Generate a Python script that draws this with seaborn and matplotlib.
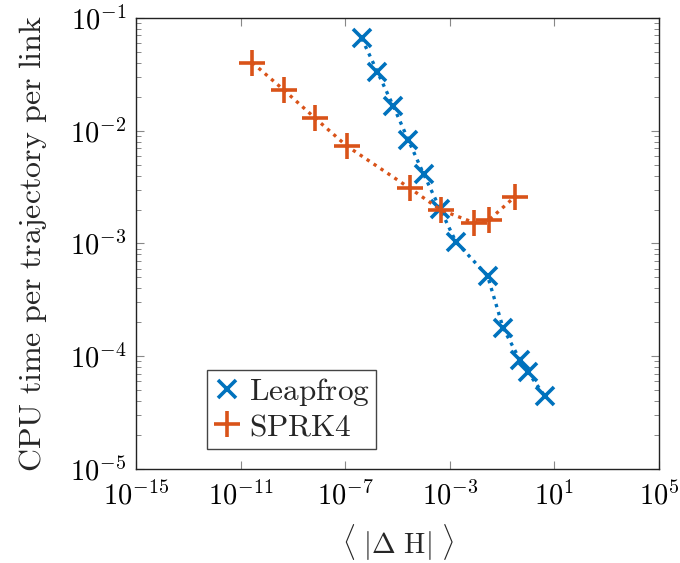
import numpy as np
import pandas as pd
import matplotlib
matplotlib.use("Agg")
import matplotlib.pyplot as plt
import seaborn as sns
from matplotlib.ticker import FixedLocator, LogLocator, FuncFormatter, NullFormatter

# Data
leap_dh = [4.3e-7, 1.7e-6, 6.9e-6, 2.6e-5, 1.0e-4, 4.3e-4, 1.7e-3, 2.8e-2, 1.1e-1, 4.8e-1, 9.5e-1, 4.4]
leap_cpu = [0.066, 0.0334, 0.0166, 0.00828, 0.00413, 0.00202, 0.00104, 5.15e-4, 1.78e-4, 9.3e-5, 7.3e-5, 4.4e-5]
sprk_dh = [2.8e-11, 4.5e-10, 7.2e-9, 1.15e-7, 3.0e-5, 4.6e-4, 8.5e-3, 3.2e-2, 3.1e-1]
sprk_cpu = [0.0402, 0.0230, 0.0129, 0.00733, 0.00309, 0.00198, 0.00153, 0.00162, 0.0026]
series_names = ["Leapfrog", "SPRK4"]
x_ticks = [1e-15, 1e-11, 1e-7, 1e-3, 1e1, 1e5]

sns.set_theme(style="white")
plt.rcParams["mathtext.fontset"] = "cm"
plt.rcParams["font.family"] = ["DejaVu Serif"]

df_leap = pd.DataFrame({"dH": leap_dh, "cpu": leap_cpu})
df_sprk = pd.DataFrame({"dH": sprk_dh, "cpu": sprk_cpu})

fig = plt.figure(figsize=(6.8, 5.63), dpi=100)
ax = fig.add_axes([0.2, 0.167, 0.769, 0.801])

blue = "#0072BD"
orange = "#D95319"
FS = 20.5

specs = [(df_leap, blue, "x", 13, series_names[0]),
         (df_sprk, orange, "+", 19, series_names[1])]
handles = []
for df, col, mk, ms, name in specs:
    n_before = len(ax.lines)
    sns.lineplot(data=df, x="dH", y="cpu", ax=ax, sort=False, color=col,
                 estimator=None, linewidth=2.4)
    line = ax.lines[n_before]
    line.set_linestyle((0, (1, 1.5)))
    line.set_dash_capstyle("butt")
    line.set_marker(mk)
    line.set_markersize(ms)
    line.set_markeredgewidth(2.6)
    line.set_markeredgecolor(col)
    line.set_label(r"$\mathrm{%s}$" % name)
    handles.append(line)

ax.set_xscale("log")
ax.set_yscale("log")
ax.set_xlim(1e-15, 1e5)
ax.set_ylim(1e-5, 1e-1)

def fmt(v, pos):
    e = int(round(np.log10(v)))
    return r"$10^{%d}$" % e

ax.xaxis.set_major_locator(FixedLocator(x_ticks))
ax.xaxis.set_minor_locator(FixedLocator([]))
ax.xaxis.set_major_formatter(FuncFormatter(fmt))
ax.yaxis.set_major_locator(LogLocator(base=10, numticks=10))
ax.yaxis.set_minor_locator(LogLocator(base=10, subs=np.arange(2, 10), numticks=20))
ax.yaxis.set_major_formatter(FuncFormatter(fmt))
ax.yaxis.set_minor_formatter(NullFormatter())

ax.tick_params(which="both", direction="in", top=True, right=True, bottom=True, left=True,
               color="#888888", labelsize=FS, labelcolor="black")
ax.tick_params(which="major", length=6, width=0.8, pad=7)
ax.tick_params(axis="x", which="major", pad=9)
ax.tick_params(which="minor", length=3.5, width=0.7)

for s in ax.spines.values():
    s.set_color("#222222")
    s.set_linewidth(1.0)

ax.set_xlabel(r"$\langle\ |\Delta\ \mathrm{H}|\ \rangle$", fontsize=FS, labelpad=9)
ax.set_ylabel(r"$\mathrm{CPU\ time\ per\ trajectory\ per\ link}$", fontsize=23, labelpad=15)

leg = ax.legend(handles=handles, loc="lower left", bbox_to_anchor=(0.135, 0.045), fontsize=22.5,
                frameon=True, fancybox=False, edgecolor="#444444", framealpha=1,
                handlelength=0.9, handletextpad=0.25, borderpad=0.2, labelspacing=0.1,
                borderaxespad=0)
leg.get_frame().set_linewidth(1.0)
for h in leg.legend_handles:
    h.set_linestyle("none")

fig.savefig("out.png", dpi=100)
